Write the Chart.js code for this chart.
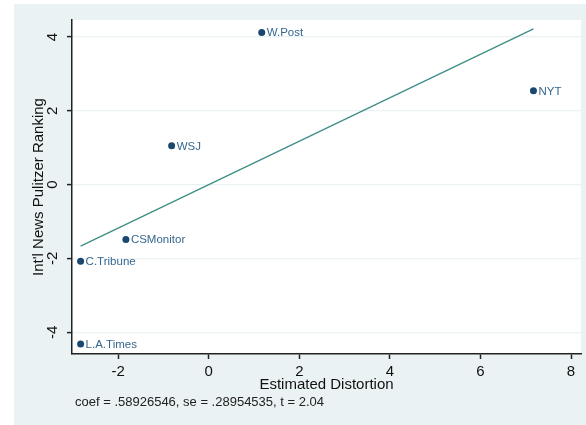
<!DOCTYPE html>
<html>
<head>
<meta charset="utf-8">
<script src="https://cdn.jsdelivr.net/npm/chart.js@4.4.1/dist/chart.umd.min.js"></script>
<style>
  html, body { margin: 0; padding: 0; background: #fff; }
  #wrap { width: 586px; height: 425px; }
</style>
</head>
<body>
<div id="wrap"><canvas id="chart"></canvas></div>
<script>
// papers and their partial residuals
const papers = ["W.Post", "NYT", "WSJ", "CSMonitor", "C.Tribune", "L.A.Times"];
const distortion = [1.17, 7.17, -0.82, -1.83, -2.83, -2.83];
const ranking = [4.12, 2.54, 1.05, -1.49, -2.08, -4.32];

// fitted line end points
const fitX = [-2.83, 7.17];
const fitY = [-1.67, 4.22];

const xTicks = [-2, 0, 2, 4, 6, 8];
const yTicks = [-4, -2, 0, 2, 4];
const note = "coef = .58926546, se = .28954535, t = 2.04";

const navy = "#1a476f";
const labelBlue = "#36678f";
const teal = "#3f8f86";
const panel = "#eaf2f3";
const font = "'Liberation Sans', Arial, Helvetica, sans-serif";

const bgPlugin = {
    id: "bg",
    beforeDraw(chart) {
        const { ctx, chartArea: a } = chart;
        ctx.save();
        ctx.fillStyle = "#fff";
        ctx.fillRect(0, 0, chart.width, chart.height);
        ctx.fillStyle = panel;
        ctx.fillRect(14, 4, chart.width - 14, chart.height - 4);
        ctx.fillStyle = "#fff";
        ctx.fillRect(a.left, a.top, a.right - a.left, a.bottom - a.top);
        ctx.restore();
    }
};

const textPlugin = {
    id: "texts",
    afterDraw(chart) {
        const ctx = chart.ctx;
        const ys = chart.scales.y;
        ctx.save();
        // point labels
        ctx.font = "11.5px " + font;
        ctx.fillStyle = labelBlue;
        ctx.textAlign = "left";
        ctx.textBaseline = "middle";
        chart.getDatasetMeta(0).data.forEach((pt, i) => {
            ctx.fillText(papers[i], pt.x + 5, pt.y + 0.5);
        });
        // rotated y tick labels
        ctx.font = "15px " + font;
        ctx.fillStyle = "#111";
        ctx.textAlign = "center";
        ctx.textBaseline = "middle";
        yTicks.forEach(v => {
            ctx.save();
            ctx.translate(53, ys.getPixelForValue(v));
            ctx.rotate(-Math.PI / 2);
            ctx.fillText(String(v), 0, 0);
            ctx.restore();
        });
        // note under the axis title
        ctx.font = "13px " + font;
        ctx.fillStyle = "#222";
        ctx.textAlign = "left";
        ctx.textBaseline = "middle";
        ctx.fillText(note, 75, 402);
        ctx.restore();
    }
};

new Chart(document.getElementById("chart").getContext("2d"), {
    type: "scatter",
    data: {
        datasets: [
            {
                label: "papers",
                data: distortion.map((x, i) => ({ x: x, y: ranking[i] })),
                pointRadius: 3.5,
                pointBackgroundColor: navy,
                pointBorderColor: navy,
                pointBorderWidth: 0
            },
            {
                type: "line",
                label: "fit",
                data: fitX.map((x, i) => ({ x: x, y: fitY[i] })),
                borderColor: teal,
                borderWidth: 1.4,
                pointRadius: 0,
                fill: false
            }
        ]
    },
    options: {
        responsive: true,
        maintainAspectRatio: false,
        animation: false,
        events: [],
        layout: { padding: { left: 14, top: 20, right: 5, bottom: 0 } },
        plugins: {
            legend: { display: false },
            tooltip: { enabled: false }
        },
        scales: {
            x: {
                type: "linear",
                min: -3.02,
                max: 8.22,
                afterBuildTicks: s => { s.ticks = xTicks.map(v => ({ value: v })); },
                afterFit: s => { s.height = 71; },
                border: { color: "#222", width: 1.5 },
                grid: { drawOnChartArea: false, drawTicks: true, tickLength: 5, tickColor: "#222", tickWidth: 1.5 },
                ticks: { color: "#111", font: { family: font, size: 15 }, padding: 4, maxRotation: 0 },
                title: { display: true, text: "Estimated Distortion", color: "#111", font: { family: font, size: 15 }, padding: { top: 0, bottom: 31 } }
            },
            y: {
                type: "linear",
                min: -4.59,
                max: 4.46,
                afterBuildTicks: s => { s.ticks = yTicks.map(v => ({ value: v })); },
                afterFit: s => { s.width = 58; },
                border: { color: "#222", width: 1.5 },
                grid: { color: panel, lineWidth: 1.2, drawTicks: true, tickLength: 5, tickColor: "#222", tickWidth: 1.5 },
                ticks: { display: false },
                title: { display: true, text: "Int'l News Pulitzer Ranking", color: "#111", font: { family: font, size: 15 }, padding: { top: 16, bottom: 0 } }
            }
        }
    },
    plugins: [bgPlugin, textPlugin]
});
</script>
</body>
</html>
